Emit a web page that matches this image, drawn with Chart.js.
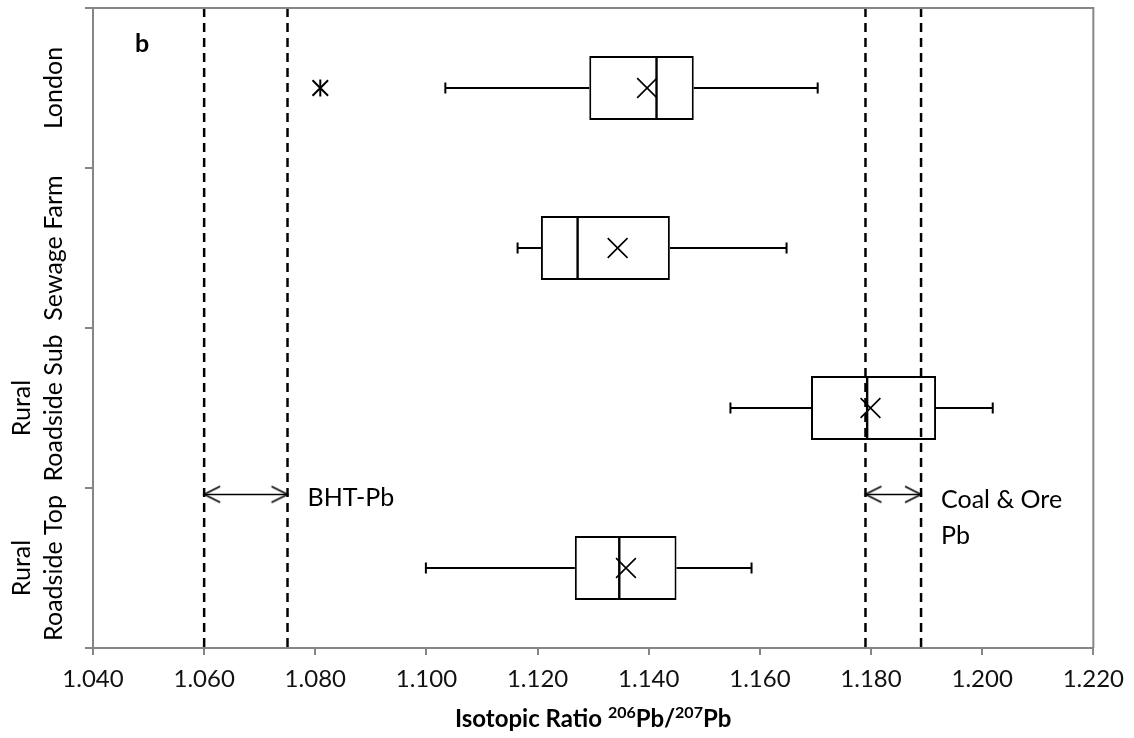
<!DOCTYPE html>
<html>
<head>
<meta charset="utf-8">
<script src="https://cdn.jsdelivr.net/npm/chart.js@4.4.1/dist/chart.umd.min.js"></script>
<style>
  html, body { margin: 0; padding: 0; background: #fff; }
  #wrap { width: 1134px; height: 738px; }
</style>
</head>
<body>
<div id="wrap"><canvas id="chart"></canvas></div>
<script>
// categories, top to bottom
const categories = ['London', 'Sewage Farm', 'Rural Roadside Sub', 'Rural Roadside Top'];
const categoryLines = [['', 'London'], ['', 'Sewage Farm'], ['Rural', 'Roadside Sub'], ['Rural', 'Roadside Top']];

// box plot stats (206Pb/207Pb)
const whiskerMin = [1.1034, 1.1164, 1.1547, 1.0999];
const q1 = [1.1293, 1.1206, 1.1692, 1.1267];
const median = [1.1414, 1.1272, 1.1793, 1.1347];
const q3 = [1.1481, 1.1438, 1.1917, 1.1450];
const whiskerMax = [1.1704, 1.1648, 1.2019, 1.1585];
const mean = [1.1397, 1.1344, 1.1799, 1.1359];

const outlierCategory = [0]; // London
const outlierValue = [1.0809];

// reference ranges
const bhtRange = [1.060, 1.075];
const coalRange = [1.179, 1.189];

const xMin = 1.04;
const xMax = 1.22;
const xStep = 0.02;

// category axis runs from -0.5 (top) to 3.5 (bottom), ticks on the boundaries
const yMin = -0.5;
const yMax = categories.length - 0.5;
const yBoundaries = [-0.5, 0.5, 1.5, 2.5, 3.5];
const ARROW_Y = 2.54;

const AXIS_GREY = '#868686';
const FONT = 'Lato, "Liberation Sans", sans-serif';

// open chevron used as arrow head, tip at the centre of the canvas
function makeChevron() {
    const c = document.createElement('canvas');
    c.width = 36;
    c.height = 20;
    const g = c.getContext('2d');
    g.strokeStyle = '#000';
    g.lineWidth = 1.6;
    g.beginPath();
    g.moveTo(2, 2);
    g.lineTo(18, 10);
    g.lineTo(2, 18);
    g.stroke();
    return c;
}
const chevron = makeChevron();

const whiskerPoints = [];
const capPoints = [];
categories.forEach((c, i) => {
    whiskerPoints.push(
        { x: whiskerMin[i], y: i }, { x: q1[i], y: i }, { x: null, y: i },
        { x: q3[i], y: i }, { x: whiskerMax[i], y: i }, { x: null, y: i }
    );
    capPoints.push({ x: whiskerMin[i], y: i }, { x: whiskerMax[i], y: i });
});

const refPoints = [];
[...bhtRange, ...coalRange].forEach(v => {
    refPoints.push({ x: v, y: yMin }, { x: v, y: yMax }, { x: null, y: yMax });
});

const overlayPlugin = {
    id: 'overlay',
    afterDraw(chart) {
        const { ctx, chartArea, scales } = chart;
        const xs = scales.x;
        const ys = scales.y;
        const arrowPx = ys.getPixelForValue(ARROW_Y);
        ctx.save();

        // plot frame top / right
        ctx.strokeStyle = AXIS_GREY;
        ctx.lineWidth = 2;
        ctx.beginPath();
        ctx.moveTo(chartArea.left, chartArea.top);
        ctx.lineTo(chartArea.right, chartArea.top);
        ctx.lineTo(chartArea.right, chartArea.bottom);
        ctx.stroke();

        ctx.fillStyle = '#000';

        // rotated category labels
        ctx.font = '25px ' + FONT;
        ctx.textAlign = 'center';
        ctx.textBaseline = 'alphabetic';
        categoryLines.forEach((lines, i) => {
            const py = ys.getPixelForValue(i);
            ctx.save();
            ctx.translate(62, py);
            ctx.rotate(-Math.PI / 2);
            lines.forEach((t, k) => {
                ctx.fillText(t, 0, (k - (lines.length - 1)) * 32);
            });
            ctx.restore();
        });

        // panel letter
        ctx.textAlign = 'left';
        ctx.font = 'bold 25px ' + FONT;
        ctx.fillText('b', chartArea.left + 42, chartArea.top + 44);

        // range labels
        ctx.font = '25px ' + FONT;
        ctx.fillText('BHT-Pb', xs.getPixelForValue(bhtRange[1]) + 20, arrowPx + 12);
        ctx.fillText('Coal & Ore', xs.getPixelForValue(coalRange[1]) + 20, arrowPx + 14);
        ctx.fillText('Pb', xs.getPixelForValue(coalRange[1]) + 20, arrowPx + 50);

        // axis title with superscripts
        const parts = [
            ['Isotopic Ratio ', false], ['206', true], ['Pb/', false], ['207', true], ['Pb', false]
        ];
        const big = 'bold 24px ' + FONT;
        const small = 'bold 16px ' + FONT;
        let total = 0;
        parts.forEach(([t, sup]) => { ctx.font = sup ? small : big; total += ctx.measureText(t).width; });
        let tx = (chartArea.left + chartArea.right) / 2 - total / 2;
        const ty = 727;
        parts.forEach(([t, sup]) => {
            ctx.font = sup ? small : big;
            ctx.fillText(t, tx, sup ? ty - 9 : ty);
            tx += ctx.measureText(t).width;
        });

        ctx.restore();
    }
};

new Chart(document.getElementById('chart'), {
    type: 'bar',
    plugins: [overlayPlugin],
    data: {
        datasets: [
            {
                type: 'bar',
                label: 'box',
                data: categories.map((c, i) => ({ x: [q1[i], q3[i]], y: i })),
                backgroundColor: '#fff',
                borderColor: '#000',
                borderWidth: 2,
                borderSkipped: false,
                grouped: false,
                categoryPercentage: 0.8,
                barPercentage: 0.5,
                order: 10
            },
            {
                type: 'line',
                label: 'whiskers',
                data: whiskerPoints,
                borderColor: '#000',
                borderWidth: 2,
                pointRadius: 0,
                spanGaps: false,
                order: 9
            },
            {
                type: 'line',
                label: 'caps',
                data: capPoints,
                showLine: false,
                pointStyle: 'line',
                pointRotation: 90,
                pointRadius: 5.5,
                pointBorderWidth: 2,
                pointBorderColor: '#000',
                order: 8
            },
            {
                type: 'line',
                label: 'median',
                data: categories.map((c, i) => ({ x: median[i], y: i })),
                showLine: false,
                pointStyle: 'line',
                pointRotation: 90,
                pointRadius: 32,
                pointBorderWidth: 2.4,
                pointBorderColor: '#000',
                order: 7
            },
            {
                type: 'line',
                label: 'reference',
                data: refPoints,
                borderColor: '#000',
                borderWidth: 2.5,
                borderDash: [9, 6],
                pointRadius: 0,
                spanGaps: false,
                order: 3
            },
            {
                type: 'line',
                label: 'bht arrow',
                data: bhtRange.map(v => ({ x: v, y: ARROW_Y })),
                borderColor: '#000',
                borderWidth: 1.5,
                pointStyle: chevron,
                pointRotation: [180, 0],
                pointRadius: 8,
                order: 2
            },
            {
                type: 'line',
                label: 'coal arrow',
                data: coalRange.map(v => ({ x: v, y: ARROW_Y })),
                borderColor: '#000',
                borderWidth: 1.5,
                pointStyle: chevron,
                pointRotation: [180, 0],
                pointRadius: 8,
                order: 2
            },
            {
                type: 'line',
                label: 'mean',
                data: categories.map((c, i) => ({ x: mean[i], y: i })),
                showLine: false,
                pointStyle: 'crossRot',
                pointRadius: 14,
                pointBorderWidth: 1.6,
                pointBorderColor: '#000',
                order: 1
            },
            {
                type: 'line',
                label: 'outlier x',
                data: outlierValue.map((v, i) => ({ x: v, y: outlierCategory[i] })),
                showLine: false,
                pointStyle: 'crossRot',
                pointRadius: 11,
                pointBorderWidth: 2,
                pointBorderColor: '#000',
                order: 1
            },
            {
                type: 'line',
                label: 'outlier bar',
                data: outlierValue.map((v, i) => ({ x: v, y: outlierCategory[i] })),
                showLine: false,
                pointStyle: 'line',
                pointRotation: 90,
                pointRadius: 8.5,
                pointBorderWidth: 2,
                pointBorderColor: '#000',
                order: 1
            }
        ]
    },
    options: {
        indexAxis: 'y',
        responsive: true,
        maintainAspectRatio: false,
        animation: false,
        layout: { autoPadding: false, padding: { top: 8, right: 39, left: 0, bottom: 0 } },
        plugins: {
            legend: { display: false },
            tooltip: { enabled: false }
        },
        scales: {
            x: {
                type: 'linear',
                min: xMin,
                max: xMax,
                ticks: {
                    stepSize: xStep,
                    color: '#111',
                    font: { family: FONT, size: 24 },
                    padding: 10,
                    maxRotation: 0,
                    callback: v => Number(v).toFixed(3)
                },
                grid: { drawOnChartArea: false, drawTicks: true, tickLength: 7, color: AXIS_GREY, lineWidth: 2 },
                border: { display: true, color: AXIS_GREY, width: 2 },
                afterFit(scale) { scale.height = 90; }
            },
            y: {
                type: 'linear',
                min: yMin,
                max: yMax,
                reverse: true,
                offset: false,
                ticks: { display: false },
                afterBuildTicks(scale) { scale.ticks = yBoundaries.map(v => ({ value: v })); },
                grid: { offset: false, drawOnChartArea: false, drawTicks: true, tickLength: 8, color: AXIS_GREY, lineWidth: 2 },
                border: { display: true, color: AXIS_GREY, width: 2 },
                afterFit(scale) { scale.width = 93; }
            }
        }
    }
});
</script>
</body>
</html>
